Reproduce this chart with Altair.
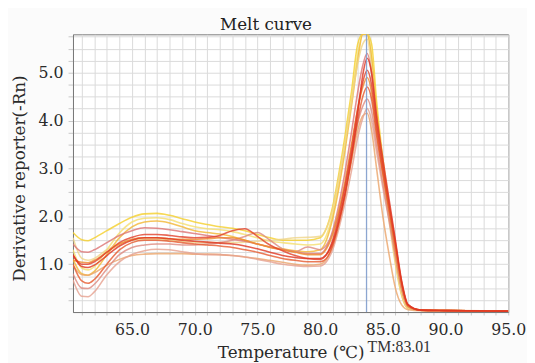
import altair as alt
import pandas as pd

temps = [60.3, 61, 61.5, 62, 63, 64, 65, 66, 67, 68, 69, 70, 71, 72, 73, 74, 75, 76, 77, 78,
         79, 80, 80.5, 81, 81.5, 82, 82.5, 83, 83.4, 83.75, 84.1, 84.5, 85, 85.5, 86, 86.5,
         87, 88, 90, 95]

c01 = [1.66, 1.51, 1.49, 1.55, 1.7, 1.85, 1.98, 2.05, 2.06, 2.02, 1.95, 1.88, 1.83, 1.78, 1.75, 1.7, 1.62, 1.55, 1.5, 1.5,
       1.5, 1.55, 1.75, 2.2, 2.9, 3.7, 4.6, 5.6, 6.2, 6.4, 5.6, 4.4, 3.2, 2.2, 1.2, 0.45, 0.1, 0.04, 0.03, 0.02]
c02 = [1.3, 0.92, 0.88, 0.95, 1.3, 1.65, 1.88, 1.96, 1.97, 1.93, 1.85, 1.78, 1.74, 1.72, 1.68, 1.62, 1.55, 1.48, 1.45, 1.42,
       1.4, 1.42, 1.6, 2.05, 2.75, 3.55, 4.45, 5.4, 5.95, 6.1, 5.4, 4.2, 3.0, 2.0, 1.05, 0.35, 0.08, 0.04, 0.03, 0.02]
c03 = [1.1, 0.8, 0.77, 0.85, 1.2, 1.55, 1.78, 1.88, 1.9, 1.86, 1.78, 1.7, 1.66, 1.63, 1.58, 1.5, 1.42, 1.36, 1.32, 1.28,
       1.26, 1.3, 1.5, 1.95, 2.6, 3.4, 4.3, 5.25, 5.8, 5.95, 5.3, 4.2, 3.05, 2.05, 1.1, 0.38, 0.08, 0.04, 0.03, 0.02]
c04 = [1.42, 1.26, 1.25, 1.3, 1.45, 1.6, 1.7, 1.76, 1.75, 1.72, 1.68, 1.64, 1.6, 1.56, 1.52, 1.48, 1.42, 1.36, 1.3, 1.26,
       1.22, 1.22, 1.35, 1.7, 2.25, 2.95, 3.75, 4.6, 5.15, 5.4, 5.0, 4.0, 3.0, 2.1, 1.25, 0.5, 0.12, 0.04, 0.03, 0.02]
c05 = [1.18, 1.0, 1.0, 1.05, 1.25, 1.45, 1.56, 1.62, 1.62, 1.6, 1.57, 1.55, 1.56, 1.6, 1.7, 1.74, 1.58, 1.4, 1.28, 1.18,
       1.12, 1.1, 1.2, 1.5, 2.0, 2.65, 3.4, 4.25, 4.8, 5.05, 4.75, 3.9, 3.05, 2.25, 1.45, 0.62, 0.15, 0.04, 0.03, 0.02]
c06 = [1.08, 1.04, 1.03, 1.08, 1.25, 1.42, 1.52, 1.55, 1.55, 1.53, 1.52, 1.52, 1.53, 1.55, 1.55, 1.5, 1.42, 1.35, 1.3, 1.25,
       1.2, 1.2, 1.32, 1.62, 2.12, 2.75, 3.5, 4.25, 4.7, 4.9, 4.6, 3.75, 2.9, 2.1, 1.3, 0.55, 0.12, 0.04, 0.03, 0.02]
c07 = [1.0, 0.65, 0.6, 0.68, 1.0, 1.3, 1.45, 1.5, 1.5, 1.48, 1.45, 1.42, 1.4, 1.38, 1.35, 1.3, 1.25, 1.18, 1.12, 1.08,
       1.05, 1.05, 1.12, 1.38, 1.85, 2.45, 3.2, 4.0, 4.5, 4.7, 4.45, 3.7, 2.9, 2.15, 1.4, 0.6, 0.15, 0.04, 0.03, 0.02]
c08 = [0.8, 0.5, 0.49, 0.58, 0.9, 1.2, 1.35, 1.4, 1.42, 1.42, 1.4, 1.4, 1.42, 1.45, 1.5, 1.58, 1.66, 1.5, 1.32, 1.26,
       1.36, 1.3, 1.4, 1.65, 2.1, 2.65, 3.3, 3.95, 4.3, 4.45, 4.2, 3.5, 2.7, 1.95, 1.2, 0.5, 0.12, 0.04, 0.03, 0.02]
c09 = [0.67, 0.33, 0.32, 0.42, 0.78, 1.05, 1.2, 1.28, 1.31, 1.3, 1.26, 1.22, 1.2, 1.2, 1.18, 1.15, 1.1, 1.05, 1.0, 0.97,
       0.95, 0.96, 1.05, 1.3, 1.75, 2.3, 2.95, 3.65, 4.05, 4.25, 4.0, 3.35, 2.6, 1.9, 1.15, 0.48, 0.12, 0.04, 0.03, 0.02]
c10 = [0.98, 0.78, 0.77, 0.82, 0.98, 1.1, 1.18, 1.21, 1.22, 1.22, 1.22, 1.21, 1.21, 1.2, 1.18, 1.15, 1.12, 1.08, 1.04, 1.0,
       0.98, 1.0, 1.1, 1.4, 1.9, 2.5, 3.15, 3.8, 4.1, 4.15, 3.8, 3.0, 2.0, 1.2, 0.5, 0.15, 0.05, 0.03, 0.03, 0.02]
c11 = [1.55, 1.12, 1.08, 1.12, 1.3, 1.42, 1.5, 1.52, 1.52, 1.5, 1.48, 1.46, 1.45, 1.45, 1.45, 1.46, 1.48, 1.5, 1.52, 1.55,
       1.56, 1.58, 1.75, 2.15, 2.8, 3.55, 4.4, 5.2, 5.6, 5.7, 5.1, 4.0, 2.9, 1.9, 1.0, 0.35, 0.08, 0.04, 0.03, 0.02]
c12 = [1.2, 0.95, 0.93, 0.98, 1.18, 1.38, 1.5, 1.55, 1.55, 1.53, 1.5, 1.48, 1.46, 1.44, 1.42, 1.38, 1.32, 1.25, 1.18, 1.14,
       1.12, 1.12, 1.2, 1.45, 1.9, 2.5, 3.25, 4.15, 4.95, 5.3, 5.0, 4.1, 3.2, 2.35, 1.5, 0.65, 0.16, 0.04, 0.03, 0.02]

curve_names = ["c01", "c02", "c03", "c11", "c04", "c10", "c09", "c08", "c06", "c07", "c05", "c12"]
curve_values = {"c01": c01, "c02": c02, "c03": c03, "c04": c04, "c05": c05, "c06": c06,
                "c07": c07, "c08": c08, "c09": c09, "c10": c10, "c11": c11, "c12": c12}
curve_colors = ["#f5cf2a", "#f5de6e", "#f2b632", "#efd488", "#dd7474", "#eba56a",
                "#e6a08e", "#dd8a80", "#ef8a2c", "#e65a2e", "#e2412a", "#df3420"]

tm_position = [83.7]
tm_label = ["TM:83.01"]
chart_title = ["Melt curve"]

x_ticks = list(range(61, 96))
y_ticks = [round(0.25 * k, 2) for k in range(1, 24)]
y_top = 5.8

rows = []
for order, name in enumerate(curve_names):
    for t, v in zip(temps, curve_values[name]):
        rows.append({"curve": name, "order": order, "temp": t, "value": v})
df = pd.DataFrame(rows)
tm_df = pd.DataFrame({"tm": tm_position, "label": tm_label})
title_df = pd.DataFrame({"title": chart_title})

SERIF = "DejaVu Serif"

x_scale = alt.Scale(domain=[60.3, 95], nice=False, zero=False)
y_scale = alt.Scale(domain=[0, y_top], nice=False, zero=False)

lines = alt.Chart(df).transform_calculate(
    shown=f"min(datum.value, {y_top})"
).mark_line(
    interpolate="monotone", strokeWidth=1.6, opacity=0.8, clip=True
).encode(
    x=alt.X("temp:Q", scale=x_scale,
            axis=alt.Axis(values=x_ticks, tickCount=200, title="Temperature (\u2103)",
                          labelExpr="datum.value % 5 === 0 ? format(datum.value, '.1f') : ''",
                          labelOverlap=False, labelFlush=False,
                          titleY=46, titleBaseline="alphabetic")),
    y=alt.Y("shown:Q", scale=y_scale,
            axis=alt.Axis(values=y_ticks, tickCount=200, title="Derivative reporter(-Rn)",
                          labelExpr="datum.value % 1 === 0 ? format(datum.value, '.1f') : ''",
                          labelOverlap=False, labelFlush=False,
                          titleX=-49, titleY=146, titleAngle=270, titleBaseline="alphabetic")),
    color=alt.Color("curve:N", scale=alt.Scale(domain=curve_names, range=curve_colors), legend=None),
    detail="curve:N",
    order="order:Q",
)

rule = alt.Chart(tm_df).mark_rule(color="#7f9ccc", strokeWidth=1.3, opacity=0.9).encode(
    x=alt.X("tm:Q", scale=x_scale)
)

tm_text = alt.Chart(tm_df).mark_text(
    align="left", baseline="alphabetic", font="Liberation Serif", fontSize=16, color="#333", dx=1
).encode(
    x=alt.X("tm:Q", scale=x_scale),
    y=alt.value(323),
    text="label:N",
)

title_text = alt.Chart(title_df).mark_text(
    align="center", baseline="alphabetic", font=SERIF, fontSize=17, color="#222"
).encode(
    x=alt.value(196),
    y=alt.value(-4.5),
    text="title:N",
)

chart = alt.layer(lines, rule, tm_text, title_text).properties(
    width=442,
    height=282,
    autosize=alt.AutoSizeParams(type="none"),
    padding={"left": 66, "top": 24, "right": 19, "bottom": 49},
    background="#fbfbfb",
).configure_view(
    fill="white", stroke="#7a7a7a", strokeWidth=1
).configure_axis(
    labelFont=SERIF, labelFontSize=16, labelColor="#2a2a2a",
    titleFont=SERIF, titleFontSize=17, titleFontWeight="normal", titleColor="#2a2a2a",
    gridColor="#dadada", gridWidth=1, domainColor="#7a7a7a", domainWidth=1,
    tickColor="#c8c8c8",
).configure_axisX(
    tickSize=3, labelPadding=7,
).configure_axisY(
    tickSize=5, labelPadding=5,
)

chart.save("out.html", embed_options={"renderer": "svg", "actions": False})
